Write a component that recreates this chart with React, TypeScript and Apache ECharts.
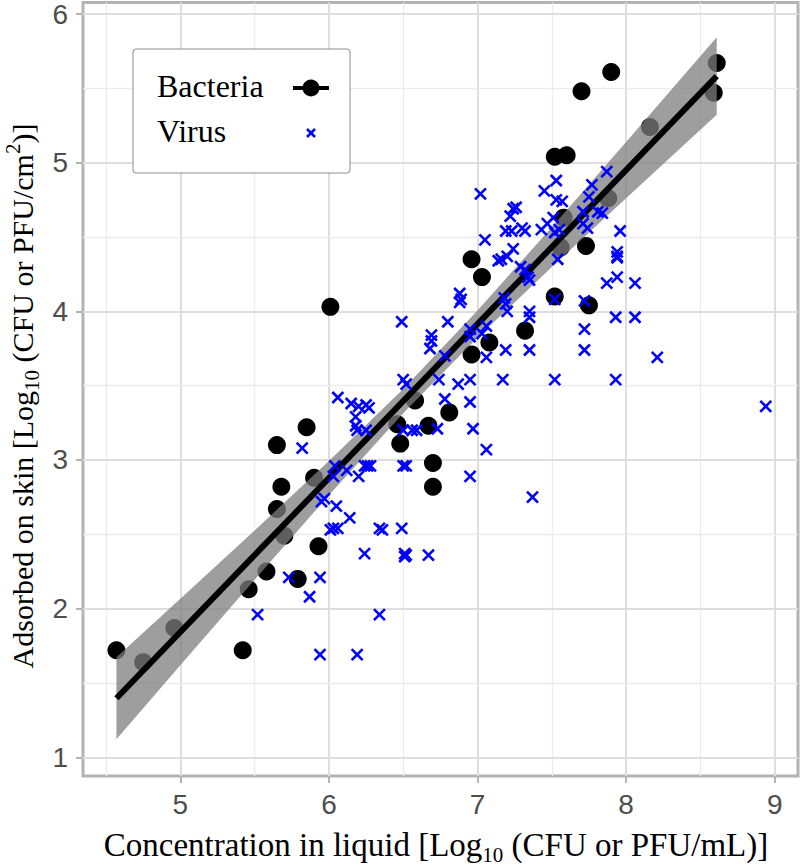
import React, { useEffect, useRef } from 'react';
import * as echarts from 'echarts';

// ---- data ----
const bacteriaX = [4.57, 4.75, 4.96, 5.42, 5.46, 5.58, 5.79, 5.65, 5.68, 5.70, 5.90, 5.93, 5.65, 5.85, 6.01, 6.46, 6.48, 6.58, 6.67, 6.70, 6.70, 6.81, 6.96, 7.08, 7.32, 6.96, 7.03, 7.52, 7.75, 7.73, 7.56, 7.58, 7.88, 7.52, 7.60, 7.70, 7.90, 8.16, 8.59, 8.61];
const bacteriaY = [1.72, 1.64, 1.87, 1.72, 2.13, 2.25, 2.20, 2.67, 2.82, 2.49, 2.88, 2.42, 3.10, 3.22, 4.03, 3.24, 3.11, 3.40, 3.23, 2.98, 2.82, 3.32, 3.71, 3.79, 3.87, 4.35, 4.23, 4.10, 4.04, 4.44, 4.43, 4.63, 4.76, 5.04, 5.05, 5.48, 5.61, 5.24, 5.47, 5.67];

const virusX = [5.52, 5.73, 5.87, 5.94, 5.94, 6.19, 6.34, 6.24,
  5.95, 5.97, 6.05, 6.14, 6.01, 6.03, 6.06, 6.34, 6.36, 6.49,
  6.51, 6.51, 6.52, 6.67, 5.82, 6.03, 6.04, 6.12, 6.20,
  6.24, 6.26, 6.28, 6.50, 6.52, 6.95, 7.37,
  6.06, 6.15, 6.20, 6.25, 6.27, 6.18, 6.18, 6.19, 6.25,
  6.50, 6.56, 6.59, 6.49, 6.50, 6.52, 6.69, 6.69, 6.68,
  6.73, 6.97, 7.06, 6.78, 6.95, 6.74, 6.87, 6.95, 7.17, 7.52, 7.93,
  6.78, 7.06, 7.19, 7.35, 7.72, 6.80, 6.95, 6.95, 7.03, 7.06,
  6.88, 6.89, 6.88, 7.18, 7.19, 7.20, 7.35, 7.35, 7.72,
  7.52, 7.72, 7.93, 8.06, 8.21, 8.94, 7.87, 7.94, 8.06,
  7.94, 7.94, 7.94, 7.96, 7.54, 7.29, 7.32, 7.34, 7.35,
  7.14, 7.16, 7.20, 7.24, 7.05, 7.19, 7.23, 7.30, 7.32,
  7.22, 7.24, 7.26, 7.43, 7.47, 7.51, 7.52, 7.55,
  7.02, 7.45, 7.53, 7.53, 7.57, 7.71, 7.71, 7.74, 7.75, 7.77, 7.81, 7.84, 7.87];
const virusY = [1.96, 2.21, 2.08, 2.21, 1.69, 1.69, 1.96, 2.37,
  2.72, 2.74, 2.69, 2.61, 2.53, 2.54, 2.54, 2.54, 2.53, 2.54,
  2.37, 2.35, 2.36, 2.36, 3.08, 2.89, 2.96, 2.93, 2.89,
  2.96, 2.96, 2.96, 2.96, 2.96, 2.89, 2.75,
  3.42, 3.38, 3.36, 3.37, 3.35, 3.29, 3.23, 3.20, 3.20,
  3.20, 3.20, 3.20, 3.93, 3.54, 3.51, 3.84, 3.80, 3.75,
  3.21, 3.21, 3.07, 3.41, 3.39, 3.54, 3.51, 3.54, 3.54, 3.54, 3.54,
  3.70, 3.69, 3.74, 3.74, 3.74, 3.93, 3.88, 3.83, 3.85, 3.90,
  4.12, 4.08, 4.06, 4.09, 4.05, 4.00, 4.00, 3.96, 3.88,
  4.08, 4.07, 3.96, 3.96, 3.69, 3.36, 4.19, 4.23, 4.19,
  4.40, 4.37, 4.36, 4.54, 4.35, 4.30, 4.28, 4.23, 4.21,
  4.34, 4.35, 4.37, 4.42, 4.48, 4.54, 4.54, 4.56, 4.54,
  4.64, 4.69, 4.70, 4.55, 4.59, 4.63, 4.53, 4.55,
  4.79, 4.81, 4.88, 4.75, 4.74, 4.67, 4.59, 4.56, 4.77, 4.85, 4.67, 4.66, 4.94];

// fitted line and its confidence band
const fitX = [4.57, 8.61];
const fitY = [1.397, 5.582];
const ciX = [4.57, 5.0, 5.5, 6.0, 6.5, 7.0, 7.5, 8.0, 8.61];
const ciLow = [1.122, 1.619, 2.194, 2.763, 3.314, 3.823, 4.298, 4.761, 5.322];
const ciHigh = [1.672, 2.066, 2.526, 2.993, 3.478, 4.005, 4.566, 5.139, 5.843];

// axes
const xTicks = [5, 6, 7, 8, 9];
const yTicks = [1, 2, 3, 4, 5, 6];
const xMinor = [4.5, 5.5, 6.5, 7.5, 8.5];
const yMinor = [1.5, 2.5, 3.5, 4.5, 5.5];
const xRange = [4.345, 9.157];
const yRange = [0.874, 6.077];

const legendNames = ['Bacteria', 'Virus'];

export default function App() {
  const ref = useRef<HTMLDivElement>(null);

  useEffect(() => {
    if (!ref.current) return;
    const chart = echarts.init(ref.current, null, { renderer: 'svg' });

    const gridLines: any[] = [];
    xTicks.forEach((v) => gridLines.push({ xAxis: v, lineStyle: { color: '#dedede', width: 2, type: 'solid' } }));
    xMinor.forEach((v) => gridLines.push({ xAxis: v, lineStyle: { color: '#ececec', width: 1.3, type: 'solid' } }));
    yTicks.forEach((v) => gridLines.push({ yAxis: v, lineStyle: { color: '#dedede', width: 2, type: 'solid' } }));
    yMinor.forEach((v) => gridLines.push({ yAxis: v, lineStyle: { color: '#ececec', width: 1.3, type: 'solid' } }));

    const tickLabel = { fontSize: 28, color: '#4d4d4d', fontFamily: '"Liberation Sans", Arial, sans-serif' };
    const serif = '"Liberation Serif", "Times New Roman", serif';

    const option: any = {
      animation: false,
      grid: {
        left: 83, right: 2, top: 2, bottom: 90,
        show: true, borderColor: '#b3b3b3', borderWidth: 3, backgroundColor: '#ffffff',
      },
      xAxis: {
        type: 'value', min: xRange[0], max: xRange[1],
        splitLine: { show: false },
        axisLine: { show: false },
        axisTick: { show: true, customValues: xTicks, length: 7, lineStyle: { color: '#b3b3b3', width: 2 } },
        axisLabel: { customValues: xTicks, margin: 14, ...tickLabel },
      },
      yAxis: {
        type: 'value', min: yRange[0], max: yRange[1],
        splitLine: { show: false },
        axisLine: { show: false },
        axisTick: { show: true, customValues: yTicks, length: 7, lineStyle: { color: '#b3b3b3', width: 2 } },
        axisLabel: { customValues: yTicks, margin: 15, ...tickLabel },
      },
      series: [
        {
          name: legendNames[0],
          type: 'scatter',
          z: 2,
          symbol: 'circle',
          symbolSize: 18,
          itemStyle: { color: '#000000', opacity: 1 },
          data: bacteriaX.map((x, i) => [x, bacteriaY[i]]),
          markLine: {
            silent: true, z: 1, symbol: ['none', 'none'], label: { show: false },
            emphasis: { disabled: true },
            data: gridLines,
          },
        },
        {
          name: 'band',
          type: 'custom',
          z: 3,
          silent: true,
          data: [[ciX[0], ciLow[0]]],
          renderItem: (params: any, api: any) => {
            const pts: number[][] = [];
            for (let i = 0; i < ciX.length; i++) pts.push(api.coord([ciX[i], ciHigh[i]]));
            for (let i = ciX.length - 1; i >= 0; i--) pts.push(api.coord([ciX[i], ciLow[i]]));
            return { type: 'polygon', shape: { points: pts }, style: { fill: 'rgba(125,125,125,0.75)' } };
          },
        },
        {
          name: 'fit',
          type: 'line',
          z: 4,
          silent: true,
          symbol: 'none',
          lineStyle: { color: '#000000', width: 6 },
          data: fitX.map((x, i) => [x, fitY[i]]),
        },
        {
          name: legendNames[1],
          type: 'scatter',
          z: 5,
          symbol: 'path://M0,0L10,10M10,0L0,10',
          symbolSize: 11,
          itemStyle: { color: 'transparent', borderColor: '#0000ff', borderWidth: 2.6, opacity: 1 },
          data: virusX.map((x, i) => [x, virusY[i]]),
        },
      ],
      graphic: [
        // legend
        { type: 'rect', z: 50, shape: { x: 133, y: 49, width: 217, height: 124, r: 3 }, style: { fill: '#ffffff', stroke: '#8c8c8c', lineWidth: 1 } },
        { type: 'text', z: 51, x: 157, y: 86, style: { text: legendNames[0], fontSize: 32, fontFamily: serif, fill: '#000', verticalAlign: 'middle', align: 'left' } },
        { type: 'text', z: 51, x: 157, y: 131, style: { text: legendNames[1], fontSize: 32, fontFamily: serif, fill: '#000', verticalAlign: 'middle', align: 'left' } },
        { type: 'line', z: 51, shape: { x1: 293, y1: 88, x2: 329, y2: 88 }, style: { stroke: '#000', lineWidth: 4 } },
        { type: 'circle', z: 52, shape: { cx: 311, cy: 88, r: 8.5 }, style: { fill: '#000' } },
        { type: 'line', z: 51, shape: { x1: 307, y1: 129, x2: 315, y2: 137 }, style: { stroke: '#0000ff', lineWidth: 2.5 } },
        { type: 'line', z: 51, shape: { x1: 315, y1: 129, x2: 307, y2: 137 }, style: { stroke: '#0000ff', lineWidth: 2.5 } },
        // x-axis title
        {
          type: 'text', z: 50, x: 436, y: 845,
          style: {
            text: '{a|Concentration in liquid [Log}{s|10}{a| (CFU or PFU/mL)]}',
            align: 'center', verticalAlign: 'middle', fill: '#000', fontFamily: serif, fontSize: 33,
            rich: {
              a: { fontSize: 33, lineHeight: 40, fontFamily: serif, fill: '#000' },
              s: { fontSize: 21, lineHeight: 20, verticalAlign: 'bottom', fontFamily: serif, fill: '#000' },
            },
          },
        },
        // y-axis title
        {
          type: 'text', z: 50, x: 22, y: 396, rotation: Math.PI / 2,
          style: {
            text: '{a|Adsorbed on skin [Log}{s|10}{a| (CFU or PFU/cm}{p|2}{a|)]}',
            align: 'center', verticalAlign: 'middle', fill: '#000', fontFamily: serif, fontSize: 30,
            rich: {
              a: { fontSize: 30, lineHeight: 40, fontFamily: serif, fill: '#000' },
              s: { fontSize: 21, lineHeight: 20, verticalAlign: 'bottom', fontFamily: serif, fill: '#000' },
              p: { fontSize: 21, lineHeight: 26, verticalAlign: 'top', fontFamily: serif, fill: '#000' },
            },
          },
        },
      ],
    };

    chart.setOption(option);
    return () => chart.dispose();
  }, []);

  return (
    <div
      ref={ref}
      style={{ position: 'fixed', left: 0, top: 0, width: 800, height: 866, background: '#ffffff' }}
    />
  );
}
